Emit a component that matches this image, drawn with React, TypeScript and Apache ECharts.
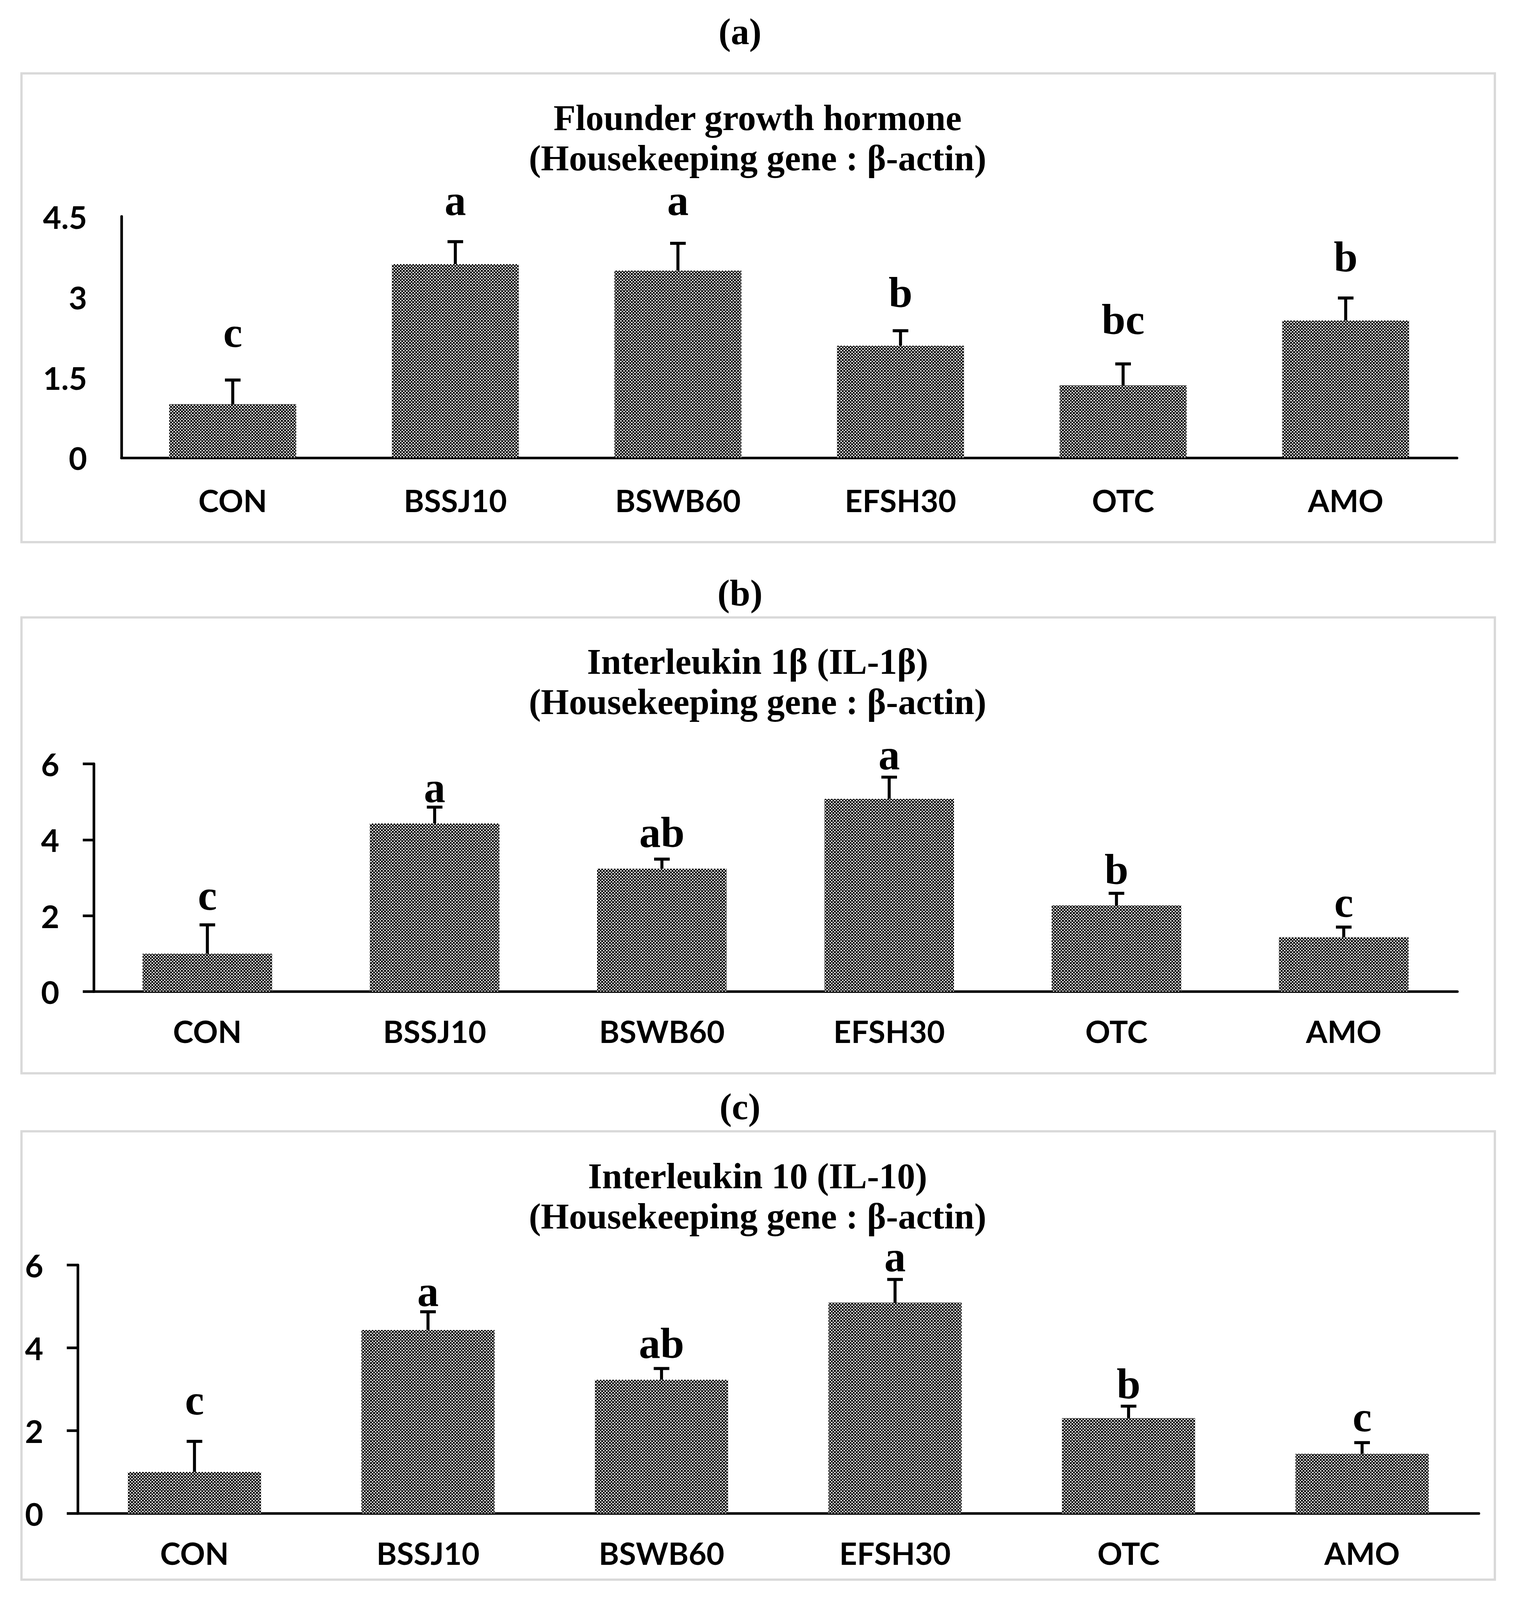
import React, { useEffect, useRef } from 'react';
import * as echarts from 'echarts';

const categories = ['CON', 'BSSJ10', 'BSWB60', 'EFSH30', 'OTC', 'AMO'];

// (a) Flounder growth hormone
const ghMean = [1.0, 3.61, 3.49, 2.09, 1.35, 2.56];
const ghSd = [0.45, 0.42, 0.51, 0.28, 0.40, 0.42];
const ghLetters = ['c', 'a', 'a', 'b', 'bc', 'b'];
const ghLetterY = [2.34, 4.8, 4.8, 3.08, 2.58, 3.74];

// (b) Interleukin 1β
const il1Mean = [1.0, 4.43, 3.24, 5.08, 2.27, 1.43];
const il1Sd = [0.76, 0.43, 0.25, 0.57, 0.32, 0.27];
const il1Letters = ['c', 'a', 'ab', 'a', 'b', 'c'];
const il1LetterY = [2.54, 5.38, 4.19, 6.24, 3.22, 2.35];

// (c) Interleukin 10
const il10Mean = [1.0, 4.43, 3.23, 5.09, 2.3, 1.44];
const il10Sd = [0.74, 0.44, 0.27, 0.56, 0.29, 0.27];
const il10Letters = ['c', 'a', 'ab', 'a', 'b', 'c'];
const il10LetterY = [2.74, 5.36, 4.11, 6.2, 3.13, 2.33];

const panelTags = ['(a)', '(b)', '(c)'];
const chartTitles = [
  'Flounder growth hormone\n(Housekeeping gene : β-actin)',
  'Interleukin 1β (IL-1β)\n(Housekeeping gene : β-actin)',
  'Interleukin 10 (IL-10)\n(Housekeeping gene : β-actin)',
];
const yMax = [4.5, 6, 6];
const yInterval = [1.5, 2, 2];

const SERIF = '"Liberation Serif", "Times New Roman", serif';
const SANS = 'Lato, "Noto Sans", sans-serif';

export default function App() {
  const ref = useRef<HTMLDivElement>(null);
  useEffect(() => {
    document.body.style.margin = '0';
    document.documentElement.style.overflow = 'hidden';
    const el = ref.current!;
    const W = el.clientWidth || 3877;
    const H = el.clientHeight || 4250;
    const sx = W / 3877;
    const sy = Math.min(1, H / 4250);
    const fs = Math.min(sx, sy);
    const chart = echarts.init(el, null, { renderer: 'svg' });

    const cvs = document.createElement('canvas');
    cvs.width = 8;
    cvs.height = 8;
    const ctx = cvs.getContext('2d')!;
    ctx.fillStyle = '#000';
    ctx.fillRect(0, 0, 8, 8);
    ctx.fillStyle = '#fff';
    ctx.fillRect(0, 0, 4, 3);
    ctx.fillRect(4, 4, 4, 3);
    const pattern: any = { image: cvs.toDataURL(), repeat: 'repeat', imageWidth: 8, imageHeight: 8 };

    const panels = [
      { mean: ghMean, sd: ghSd, letters: ghLetters, letterY: ghLetterY },
      { mean: il1Mean, sd: il1Sd, letters: il1Letters, letterY: il1LetterY },
      { mean: il10Mean, sd: il10Sd, letters: il10Letters, letterY: il10LetterY },
    ];

    const grids = [
      { left: 311, top: 575, width: 3420, height: 641 },
      { left: 240, top: 2029, width: 3492, height: 605 },
      { left: 199, top: 3360, width: 3588, height: 660 },
    ];
    const labelMargins = [72, 64, 64];
    const showTicks = [false, true, true];

    const borders = [
      { y: 195, h: 1245 },
      { y: 1640, h: 1211 },
      { y: 3005, h: 1191 },
    ];
    const tagY = [84, 1575, 2940];
    const titleY = [367, 1811, 3178];

    const series: any[] = [];
    panels.forEach((p, k) => {
      series.push({
        type: 'bar',
        xAxisIndex: k,
        yAxisIndex: k,
        data: p.mean,
        barCategoryGap: '43%',
        itemStyle: { color: pattern },
        silent: true,
      });
      series.push({
        type: 'custom',
        xAxisIndex: k,
        yAxisIndex: k,
        encode: { x: 0, y: [1, 2] },
        data: p.mean.map((m, i) => [i, m - p.sd[i], m + p.sd[i], p.letterY[i]]),
        clip: false,
        silent: true,
        renderItem: (params: any, api: any) => {
          const i = api.value(0);
          const lo = api.coord([i, api.value(1)]);
          const hi = api.coord([i, api.value(2)]);
          const lt = api.coord([i, api.value(3)]);
          const hw = 20 * sx;
          const st = { stroke: '#000', lineWidth: 8 * fs };
          return {
            type: 'group',
            children: [
              { type: 'line', shape: { x1: hi[0], y1: hi[1], x2: lo[0], y2: lo[1] }, style: st },
              { type: 'line', shape: { x1: hi[0] - hw, y1: hi[1], x2: hi[0] + hw, y2: hi[1] }, style: st },
              { type: 'line', shape: { x1: lo[0] - hw, y1: lo[1], x2: lo[0] + hw, y2: lo[1] }, style: st },
              {
                type: 'text',
                x: lt[0],
                y: lt[1],
                style: {
                  text: p.letters[params.dataIndex],
                  fontFamily: SERIF,
                  fontWeight: 'bold',
                  fontSize: 114 * fs,
                  fill: '#000',
                  align: 'center',
                  verticalAlign: 'middle',
                },
              },
            ],
          };
        },
      });
    });

    const graphic: any[] = [];
    borders.forEach((b) => {
      graphic.push({
        type: 'rect',
        shape: { x: 55 * sx, y: b.y * sy, width: 3773 * sx, height: b.h * sy },
        style: { fill: 'none', stroke: '#d9d9d9', lineWidth: 6 * fs },
        silent: true,
      });
    });
    panelTags.forEach((t, k) => {
      graphic.push({
        type: 'text',
        x: 1895 * sx,
        y: tagY[k] * sy,
        style: {
          text: t,
          fontFamily: SERIF,
          fontWeight: 'bold',
          fontSize: 98 * fs,
          fill: '#000',
          align: 'center',
          verticalAlign: 'middle',
        },
      });
      graphic.push({
        type: 'text',
        x: 1940 * sx,
        y: titleY[k] * sy,
        style: {
          text: chartTitles[k],
          fontFamily: SERIF,
          fontWeight: 'bold',
          fontSize: 96 * fs,
          lineHeight: 107 * sy,
          fill: '#000',
          align: 'center',
          verticalAlign: 'middle',
        },
      });
    });

    chart.setOption({
      animation: false,
      backgroundColor: '#fff',
      grid: grids.map((g) => ({
        left: g.left * sx,
        top: g.top * sy,
        width: g.width * sx,
        height: g.height * sy,
        containLabel: false,
        outerBoundsMode: 'none',
      })),
      xAxis: grids.map((g, k) => ({
        type: 'category',
        gridIndex: k,
        data: categories,
        axisLine: { show: true, lineStyle: { color: '#000', width: 7 * fs } },
        axisTick: { show: false },
        axisLabel: {
          margin: labelMargins[k] * sy,
          fontFamily: SANS,
          fontWeight: 'bold',
          fontSize: 82 * fs,
          color: '#000',
        },
        splitLine: { show: false },
      })),
      yAxis: grids.map((g, k) => ({
        type: 'value',
        gridIndex: k,
        min: 0,
        max: yMax[k],
        interval: yInterval[k],
        axisLine: { show: true, lineStyle: { color: '#000', width: 7 * fs } },
        axisTick: { show: showTicks[k], length: 28 * sx, inside: false, lineStyle: { color: '#000', width: 7 * fs } },
        axisLabel: {
          margin: 88 * sx,
          fontFamily: SANS,
          fontWeight: 'bold',
          fontSize: 84 * fs,
          color: '#000',
          formatter: (v: number) => String(v),
        },
        splitLine: { show: false },
      })),
      series,
      graphic,
    });

    return () => chart.dispose();
  }, []);
  return (
    <div
      ref={ref}
      style={{ position: 'relative', width: '100vw', height: '100vh', background: '#fff' }}
    />
  );
}
